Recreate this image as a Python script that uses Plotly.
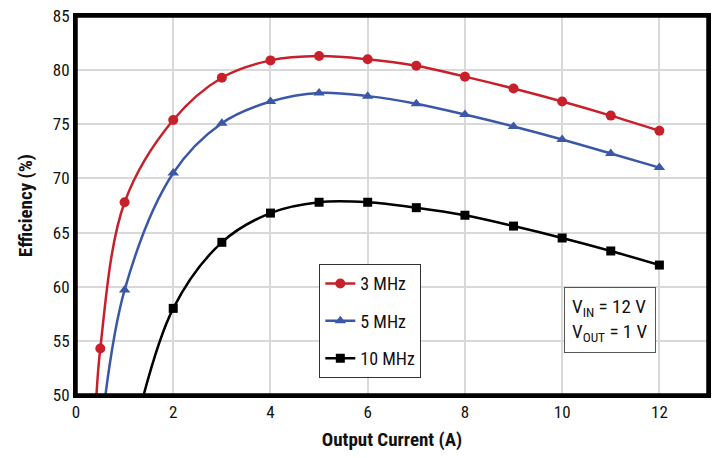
import plotly.graph_objects as go

# Measured points (markers)
x_3mhz = [0.5, 1, 2, 3, 4, 5, 6, 7, 8, 9, 10, 11, 12]
y_3mhz = [54.3, 67.8, 75.4, 79.3, 80.9, 81.3, 81.0, 80.4, 79.4, 78.3, 77.1, 75.8, 74.4]

x_5mhz = [1, 2, 3, 4, 5, 6, 7, 8, 9, 10, 11, 12]
y_5mhz = [59.7, 70.5, 75.1, 77.1, 77.9, 77.6, 76.9, 75.9, 74.8, 73.6, 72.3, 71.0]

x_10mhz = [2, 3, 4, 5, 6, 7, 8, 9, 10, 11, 12]
y_10mhz = [58.0, 64.1, 66.8, 67.8, 67.8, 67.3, 66.6, 65.6, 64.5, 63.3, 62.0]

x_start = {"3 MHz": 0.38, "5 MHz": 0.5, "10 MHz": 1.22}
y_start = {"3 MHz": 46.0, "5 MHz": 46.0, "10 MHz": 47.0}

series = [
    ("3 MHz", x_3mhz, y_3mhz, "#c8202a", "circle", 10),
    ("5 MHz", x_5mhz, y_5mhz, "#3b58a8", "triangle-up", 10),
    ("10 MHz", x_10mhz, y_10mhz, "#000000", "square", 9),
]

font_family = "Liberation Sans Narrow, Roboto Condensed, Arial Narrow, Roboto, sans-serif"

fig = go.Figure()
for name, xs, ys, color, sym, ms in series:
    fig.add_trace(go.Scatter(
        x=[x_start[name]] + xs, y=[y_start[name]] + ys,
        mode="lines", line=dict(color=color, width=2.5, shape="spline", smoothing=1.0),
        showlegend=False, hoverinfo="skip", cliponaxis=True))
    fig.add_trace(go.Scatter(
        x=xs, y=ys, mode="markers",
        marker=dict(color=color, symbol=sym, size=ms),
        showlegend=False, cliponaxis=True))
for name, xs, ys, color, sym, ms in series:
    fig.add_trace(go.Scatter(
        x=[None], y=[None], mode="lines+markers", name=name, legendgroup=name,
        line=dict(color=color, width=2.5),
        marker=dict(color=color, symbol=sym, size=ms)))

fig.add_annotation(
    x=0.845, y=0.197, xref="paper", yref="paper", xanchor="center", yanchor="middle",
    text="V<sub>IN</sub> = 12 V<br>V<sub>OUT</sub> = 1 V",
    showarrow=False, align="left",
    font=dict(family=font_family, size=19, color="#111"),
    bordercolor="#555", borderwidth=1, borderpad=7, bgcolor="white")

# plot frame
fig.add_shape(type="rect", xref="paper", yref="paper", x0=0, y0=0, x1=1, y1=1,
              line=dict(color="black", width=3.5), layer="above")

fig.update_layout(
    width=714, height=458,
    margin=dict(l=76, r=6, t=16, b=63),
    paper_bgcolor="white", plot_bgcolor="white",
    font=dict(family=font_family, size=17, color="#111"),
    legend=dict(
        x=0.385, y=0.345, xanchor="left", yanchor="top",
        bordercolor="#333", borderwidth=1, bgcolor="white",
        font=dict(family=font_family, size=18, color="#111"),
        traceorder="grouped", tracegroupgap=11, itemwidth=30),
    xaxis=dict(
        range=[0, 13], tickvals=[0, 2, 4, 6, 8, 10, 12],
        showgrid=True, gridcolor="#d9d9d9", gridwidth=2,
        showline=True, linecolor="black", linewidth=3, mirror="all",
        ticks="", zeroline=False, automargin=False,
        title=dict(text="<b>Output Current (A)</b>", font=dict(size=19), standoff=12)),
    yaxis=dict(
        range=[50, 85], tickvals=[50, 55, 60, 65, 70, 75, 80, 85],
        showgrid=True, gridcolor="#d9d9d9", gridwidth=2,
        showline=True, linecolor="black", linewidth=3, mirror="all",
        ticks="", zeroline=False, automargin=False,
        title=dict(text="<b>Efficiency (%)</b>", font=dict(size=19), standoff=16)),
)

# remove the default page margin so the 714x458 figure fills the window exactly
fig.write_html(
    "out.html",
    config={"displayModeBar": False, "staticPlot": True},
    post_script="document.body.style.margin='0';document.body.style.overflow='hidden';",
)
